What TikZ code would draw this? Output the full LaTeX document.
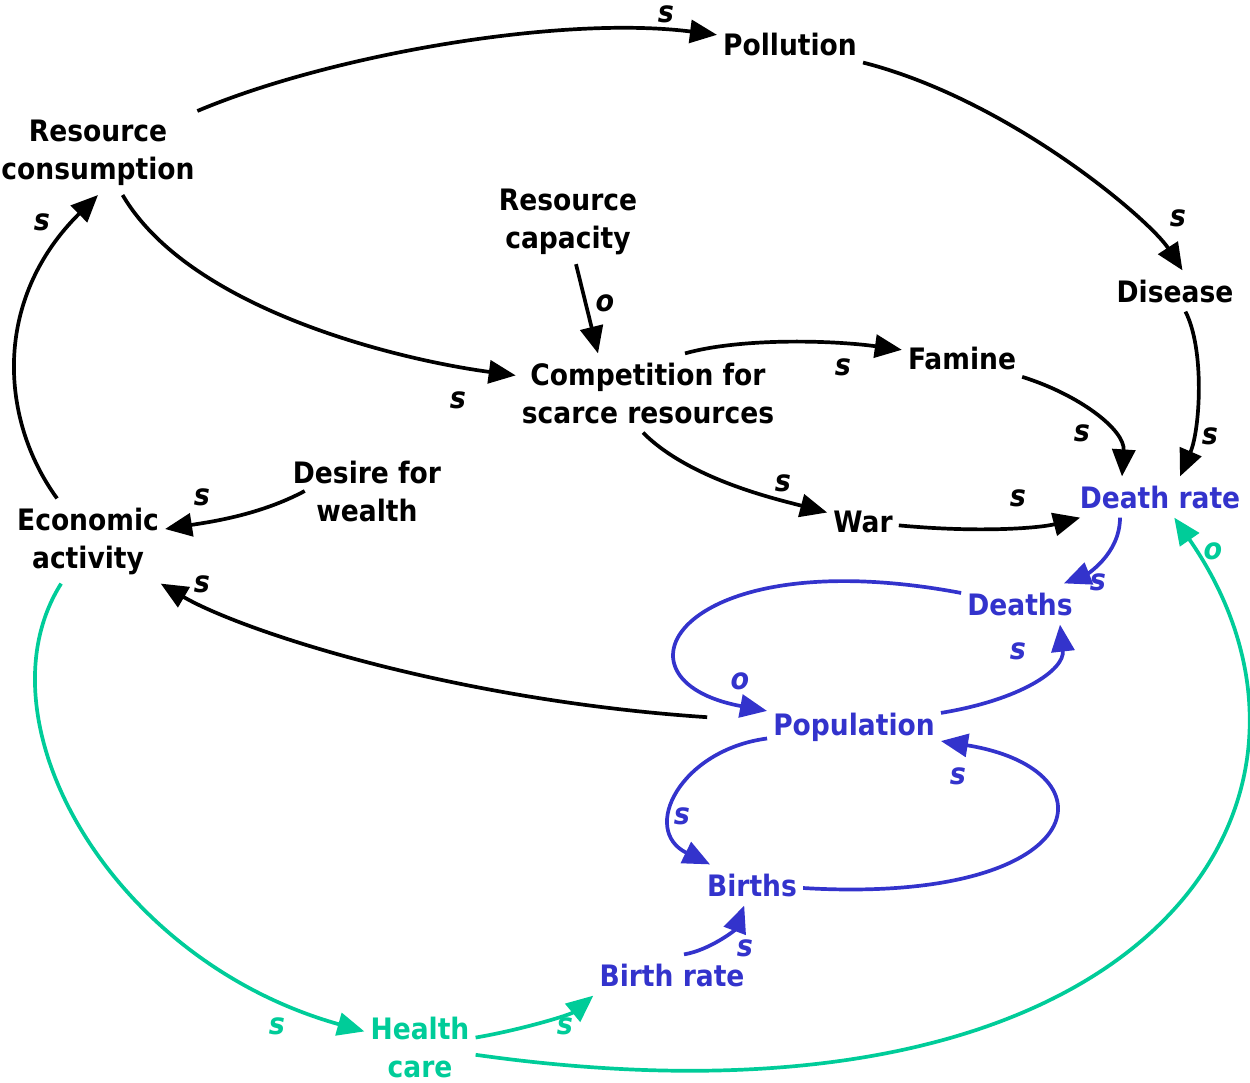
\documentclass[tikz,border=0pt]{standalone}
\usepackage{fontspec}
\setmainfont{DejaVu Sans Condensed}
\usetikzlibrary{arrows.meta}
\definecolor{popblue}{RGB}{51,51,204}
\definecolor{caregreen}{RGB}{0,204,153}
\tikzset{
  % variable in the loop diagram
  factor/.style = {
    font = \fontsize{29.5}{38}\selectfont\bfseries,
    align = center,
    inner xsep = 6pt,
    inner ysep = 9pt
  },
  % causal link
  link/.style = {
    draw = black,
    line width = 3.7pt,
    -{Triangle[length=27pt,width=23pt]}
  },
  % polarity of a link
  sign/.style = {
    font = \fontsize{30}{30}\selectfont\bfseries\itshape,
    inner sep = 0
  }
}

\begin{document}
\begin{tikzpicture}[x=1pt, y=-1pt]
  \useasboundingbox (0,0) rectangle (1250,1082);

  \node[factor] (pol) at (790,44) {Pollution};
  \node[factor] (rc) at (98,153) {Resource\\consumption};
  \node[factor] (cap) at (568,222) {Resource\\capacity};
  \node[factor] (dis) at (1175,291) {Disease};
  \node[factor] (comp) at (648,393) {Competition for\\scarce resources};
  \node[factor] (fam) at (962,358) {Famine};
  \node[factor] (dfw) at (367,491) {Desire for\\wealth};
  \node[factor] (ea) at (88,541) {Economic\\activity};
  \node[factor] (war) at (863,522) {War};
  \node[factor, text=popblue] (dr) at (1160,497) {Death rate};
  \node[factor, text=popblue] (deaths) at (1020,604) {Deaths};
  \node[factor, text=popblue] (pop) at (854,727) {Population};
  \node[factor, text=popblue] (births) at (752,885) {Births};
  \node[factor, text=popblue] (br) at (672,975) {Birth rate};
  \node[factor, text=caregreen] (hc) at (420,1047) {Health\\care};

  % black links
  \draw[link] (rc) .. controls (330,55) and (560,15) .. (pol);
  \draw[link] (pol) .. controls (1010,100) and (1150,220) .. (dis.70);
  \draw[link] (dis) .. controls (1205,350) and (1200,430) .. ([xshift=20pt]dr.north);
  \draw[link] (fam) .. controls (1080,395) and (1125,430) .. ([xshift=-38pt]dr.north);
  \draw[link] ([xshift=37pt]comp.north) .. controls (740,338) and (830,340) .. (fam);
  \draw[link] (rc) .. controls (190,310) and (400,360) .. (comp);
  \draw[link] ([xshift=8pt]cap.south) -- ([xshift=-50pt]comp.north);
  \draw[link] ([xshift=-5pt]comp.south) .. controls (690,480) and (780,500) .. (war);
  \draw[link] (war) .. controls (980,533) and (1040,528) .. (dr);
  \draw[link] ([xshift=18pt]dfw.west) .. controls (260,515) and (210,522) .. (ea);
  \draw[link, shorten <=60pt] (pop) .. controls (450,700) and (240,630) .. (ea);
  \draw[link] (ea) .. controls (0,420) and (-8,300) .. (rc.south);

  % population loops
  \draw[link, popblue] ([xshift=-40pt]dr.south) .. controls (1120,555) and (1085,575) .. ([xshift=-15pt]deaths.north east);
  \draw[link, popblue] (deaths) .. controls (680,540) and (600,680) .. (pop);
  \draw[link, popblue] (pop) .. controls (1020,700) and (1065,670) .. ([xshift=40pt]deaths.south);
  \draw[link, popblue] (pop) .. controls (680,750) and (640,830) .. (births);
  \draw[link, popblue] (births) .. controls (1090,905) and (1120,770) .. (pop);
  \draw[link, popblue] ([xshift=12pt]br.north) .. controls (710,950) and (735,930) .. (births);

  % health care links
  \draw[link, caregreen] (ea) .. controls (-25,720) and (110,960) .. (hc);
  \draw[link, caregreen] (hc) .. controls (520,1030) and (570,1015) .. (br.south west);
  \draw[link, caregreen] (hc) .. controls (1150,1150) and (1370,800) .. (dr);

  % polarities
  \node[sign] at (666,14) {s};
  \node[sign] at (1178,218) {s};
  \node[sign] at (1210,436) {s};
  \node[sign] at (1082,433) {s};
  \node[sign] at (843,367) {s};
  \node[sign] at (458,400) {s};
  \node[sign] at (605,303) {o};
  \node[sign] at (783,483) {s};
  \node[sign] at (1018,498) {s};
  \node[sign] at (202,497) {s};
  \node[sign] at (202,584) {s};
  \node[sign] at (42,222) {s};
  \node[sign, popblue] at (1098,582) {s};
  \node[sign, popblue] at (740,681) {o};
  \node[sign, popblue] at (1018,651) {s};
  \node[sign, popblue] at (682,816) {s};
  \node[sign, popblue] at (958,776) {s};
  \node[sign, popblue] at (745,948) {s};
  \node[sign, caregreen] at (277,1026) {s};
  \node[sign, caregreen] at (565,1026) {s};
  \node[sign, caregreen] at (1213,551) {o};
\end{tikzpicture}
\end{document}
